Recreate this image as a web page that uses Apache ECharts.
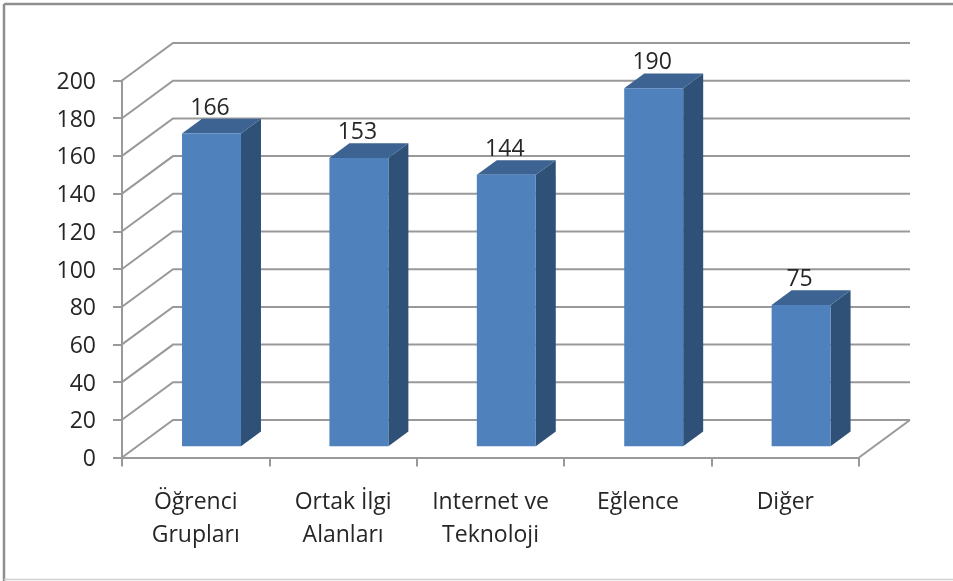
<!DOCTYPE html>
<html><head><meta charset="utf-8">
<style>html,body{margin:0;padding:0;background:#fff}#c{width:953px;height:581px}</style>
<script src="https://cdn.jsdelivr.net/npm/echarts@6/dist/echarts.min.js"></script>
</head><body><div id="c"></div>
<script>
const categories = ["Öğrenci\nGrupları", "Ortak İlgi\nAlanları", "Internet ve\nTeknoloji", "Eğlence", "Diğer"];
const values = [166, 153, 144, 190, 75];
const gridTicks = [0, 20, 40, 60, 80, 100, 120, 140, 160, 180, 200];

const FONT = '"Open Sans", "Noto Sans", sans-serif';
const LINE = '#999999';
const TEXT = '#262626';
const WALL_DX = 51, WALL_DY = -37.5;
const BAR_DX = 15.8, BAR_DY = -11.2, BAR_W = 0.4, DEPTH_X = 20, DEPTH_Y = -14.7;

const chart = echarts.init(document.getElementById('c'), null, {renderer: 'canvas'});
chart.setOption({
  animation: false,
  backgroundColor: '#fff',
  graphic: [
    {type: 'line', silent: true, shape: {x1: 4, y1: 4, x2: 953, y2: 4}, style: {stroke: '#8f8f8f', lineWidth: 2.5}},
    {type: 'line', silent: true, shape: {x1: 4, y1: 4, x2: 4, y2: 581}, style: {stroke: '#8f8f8f', lineWidth: 2.5}},
    {type: 'line', silent: true, shape: {x1: 4, y1: 579.5, x2: 953, y2: 579.5}, style: {stroke: '#d0d0d0', lineWidth: 1.5}}
  ],
  grid: {left: 122, top: 80.5, width: 737, height: 377},
  xAxis: {
    type: 'category', data: categories, boundaryGap: true,
    axisLine: {show: true, lineStyle: {color: LINE, width: 2}},
    axisTick: {show: true, alignWithLabel: false, length: 9, lineStyle: {color: LINE, width: 2}},
    axisLabel: {interval: 0, margin: 28, color: TEXT, fontFamily: FONT, fontSize: 23, lineHeight: 33},
    splitLine: {show: false}
  },
  yAxis: {
    type: 'value', min: 0, max: 200, interval: 20,
    axisLine: {show: true, lineStyle: {color: LINE, width: 2}},
    axisTick: {show: true, length: 9, lineStyle: {color: LINE, width: 2}},
    axisLabel: {margin: 26, formatter: '{n|{value}}',
      rich: {n: {color: TEXT, fontFamily: FONT, fontSize: 23, padding: [4, 0, 0, 0]}}},
    splitLine: {show: false}
  },
  series: [
    {
      type: 'custom', silent: true, z: 1, coordinateSystem: 'cartesian2d',
      data: gridTicks.map(v => [0, v]),
      encode: {x: 0, y: 1},
      renderItem(params, api) {
        const band = api.size([1, 0])[0];
        const p = api.coord([0, api.value(1)]);
        const x0 = p[0] - band / 2, y0 = p[1];
        const xEnd = x0 + band * categories.length;
        return {
          type: 'polyline',
          shape: {points: [[x0, y0], [x0 + WALL_DX, y0 + WALL_DY], [xEnd + WALL_DX, y0 + WALL_DY]]},
          style: {stroke: LINE, lineWidth: 2, fill: null}
        };
      }
    },
    {
      type: 'custom', silent: true, z: 1, coordinateSystem: 'cartesian2d',
      data: [[categories.length - 1, 0]],
      encode: {x: 0, y: 1},
      renderItem(params, api) {
        const band = api.size([1, 0])[0];
        const p = api.coord([api.value(0), 0]);
        const x = p[0] + band / 2;
        return {type: 'line', shape: {x1: x, y1: p[1], x2: x + WALL_DX, y2: p[1] + WALL_DY},
          style: {stroke: LINE, lineWidth: 2}};
      }
    },
    {
      type: 'custom', silent: true, z: 3, coordinateSystem: 'cartesian2d',
      data: values.map((v, i) => [i, v]),
      encode: {x: 0, y: 1},
      renderItem(params, api) {
        const band = api.size([1, 0])[0];
        const w = band * BAR_W;
        const top = api.coord([api.value(0), api.value(1)]);
        const base = api.coord([api.value(0), 0]);
        const x = top[0] + BAR_DX - w / 2;
        const yT = top[1] + BAR_DY, yB = base[1] + BAR_DY;
        return {type: 'group', children: [
          {type: 'polygon', shape: {points: [[x + w, yT], [x + w + DEPTH_X, yT + DEPTH_Y], [x + w + DEPTH_X, yB + DEPTH_Y], [x + w, yB]]},
            style: {fill: '#2f5178'}},
          {type: 'polygon', shape: {points: [[x, yT], [x + DEPTH_X, yT + DEPTH_Y], [x + w + DEPTH_X, yT + DEPTH_Y], [x + w, yT]]},
            style: {fill: '#3c6391'}},
          {type: 'rect', shape: {x, y: yT, width: w, height: yB - yT}, style: {fill: '#4f81bd'}},
          {type: 'text', style: {text: String(api.value(1)), x: x + w / 2 - 1.5, y: yT + DEPTH_Y + 1, align: 'center', verticalAlign: 'bottom',
            fill: TEXT, font: '23px ' + FONT}}
        ]};
      }
    }
  ]
});
</script></body></html>
